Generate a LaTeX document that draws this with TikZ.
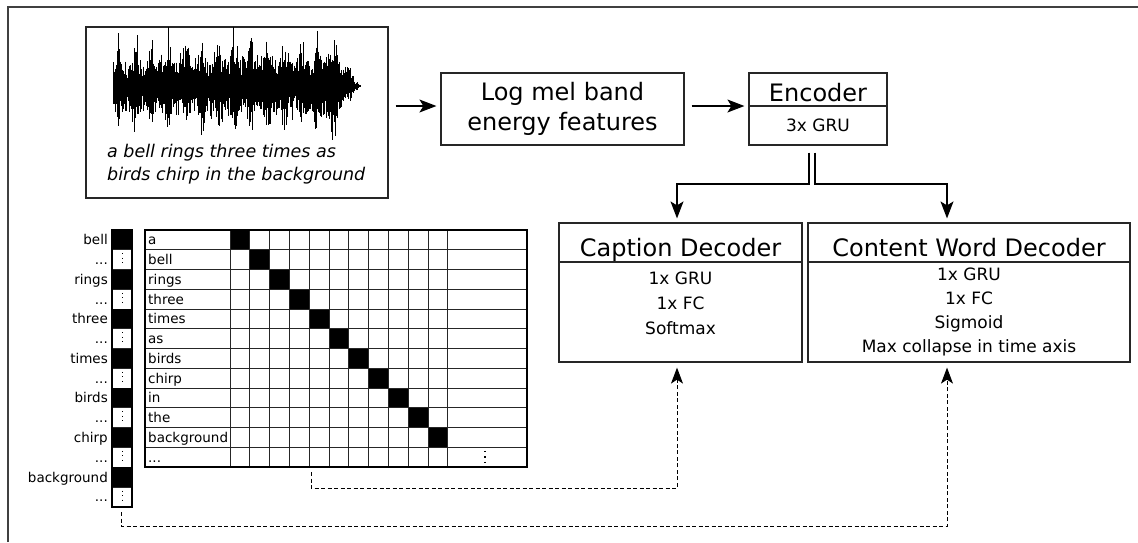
\documentclass[tikz,border=0pt]{standalone}
\usepackage{fontspec}
\setmainfont{DejaVu Sans}
\usetikzlibrary{arrows.meta,calc}
\newcommand\mydots{...}
\begin{document}
\begin{tikzpicture}[x=1pt,y=-1pt,
  box/.style={draw=black!85,line width=1.2pt,inner sep=0pt},
  arr/.style={line width=1.1pt,-{Stealth[length=17pt,width=13pt,inset=4pt]}},
  darr/.style={line width=1pt,dash pattern=on 4pt off 2.5pt,-{Stealth[length=16pt,width=12pt,inset=4pt]}},
  big/.style={font=\fontsize{24}{30}\selectfont},
  mid/.style={font=\fontsize{17}{24}\selectfont},
  small/.style={font=\fontsize{13.5}{16}\selectfont},
  lbl/.style={inner sep=0pt},
  grid line/.style={line width=0.9pt,draw=black!85},
]
\useasboundingbox (0,0) rectangle (1138,542);

% outer frame (cropped)
\draw[line width=1.6pt,black!75] (8,542) -- (8,7) -- (1138,7);

% ---------- waveform box ----------
\node[box,minimum width=302pt,minimum height=171pt] (wave) at (237,112.5) {};
\pgfmathsetseed{12}
\foreach \i in {0,...,414} {
  \pgfmathsetmacro\u{\i/414}
  \pgfmathsetmacro\burst{abs(sin(\u*2700+30))}
  \pgfmathsetmacro\tap{\u>0.9 ? (1-\u)/0.1 : 1}
  \pgfmathsetmacro\e{(16 + 20*\burst^6 + 10*rnd + 14*exp(-((\u-0.88)*22)^2) + 8*sin(\u*180))*\tap}
  \pgfmathsetmacro\a{\e*(0.4+0.6*rnd^1.5)*(rnd>0.93 ? 1.3 : 1)}
  \pgfmathsetmacro\b{\e*(0.4+0.6*rnd^1.5)*(rnd>0.93 ? 1.3 : 1)}
  \draw[line width=0.7pt] (113+0.6*\i, 86-\a) -- (113+0.6*\i, 86+\b);
}
\node[lbl,anchor=base west,font=\itshape\fontsize{17.5}{22}\selectfont] (capt1) at (107,157) {a bell rings three times as};
\node[lbl,anchor=base west,font=\itshape\fontsize{17.5}{22}\selectfont] (capt2) at (107,180) {birds chirp in the background};

% ---------- log mel ----------
\node[box,minimum width=243pt,minimum height=72pt,align=center,big] (mel) at (562.5,109) {Log mel band\\energy features};

% ---------- encoder ----------
\node[box,minimum width=138pt,minimum height=72pt] (enc) at (818,109) {};
\draw[box] (enc.west |- 0,106) -- (enc.east |- 0,106);
\node[lbl,anchor=base,big] (enct) at (818,101) {Encoder};
\node[lbl,anchor=base,mid] (encg) at (818,131) {3x GRU};

% ---------- decoders ----------
\node[box,minimum width=243pt,minimum height=139pt] (cap) at (680.5,292.5) {};
\draw[box] (cap.west |- 0,262) -- (cap.east |- 0,262);
\node[lbl,anchor=base,big] (capt) at (680.5,256) {Caption Decoder};
\node[lbl,anchor=base,mid] (capa) at (680.5,284) {1x GRU};
\node[lbl,anchor=base,mid] (capb) at (680.5,309) {1x FC};
\node[lbl,anchor=base,mid] (capc) at (680.5,334) {Softmax};

\node[box,minimum width=322pt,minimum height=139pt] (cont) at (969,292.5) {};
\draw[box] (cont.west |- 0,262) -- (cont.east |- 0,262);
\node[lbl,anchor=base,big] (contt) at (969,256) {Content Word Decoder};
\node[lbl,anchor=base,mid] (conta) at (969,280) {1x GRU};
\node[lbl,anchor=base,mid] (contb) at (969,304) {1x FC};
\node[lbl,anchor=base,mid] (contc) at (969,328) {Sigmoid};
\node[lbl,anchor=base,mid] (contd) at (969,352) {Max collapse in time axis};

% ---------- solid connectors ----------
\draw[arr] ([xshift=7pt,yshift=6.5pt]wave.east) -- ([xshift=-4pt,yshift=3pt]mel.west);
\draw[arr] ([xshift=7pt,yshift=3pt]mel.east) -- ([xshift=-4pt,yshift=3pt]enc.west);
\coordinate (e1) at ([xshift=-9pt,yshift=-7pt]enc.south);
\coordinate (e2) at ([xshift=-3pt,yshift=-7pt]enc.south);
\coordinate (capin) at ([xshift=-3.5pt,yshift=4pt]cap.north);
\coordinate (contin) at ([xshift=-22pt,yshift=4pt]cont.north);
\draw[arr] (e1) -- (e1 |- 0,184) -| (capin);
\draw[arr] (e2) -- (e2 |- 0,184) -| (contin);

% ---------- left column (content words) ----------
\foreach \k/\w in {0/bell,1/\mydots,2/rings,3/\mydots,4/three,5/\mydots,6/times,7/\mydots,8/birds,9/\mydots,10/chirp,11/\mydots,12/background,13/\mydots} {
  \pgfmathsetmacro\yy{230+19.77*\k}
  \ifodd\k
    \draw[grid line,fill=white] (112,\yy) rectangle (132,\yy+19.77);
    \draw[line width=0.9pt,dash pattern=on 1pt off 3.5pt] (122,\yy+3.5) -- (122,\yy+17);
  \else
    \fill[black] (112,\yy) rectangle (132,\yy+19.77);
  \fi
  \node[lbl,anchor=base east,small] at (108,\yy+14.8) {\w};
}
\draw[line width=1.4pt] (112,230) rectangle (132,506.8);

% ---------- caption matrix ----------
\foreach \r/\w in {0/a,1/bell,2/rings,3/three,4/times,5/as,6/birds,7/chirp,8/in,9/the,10/background,11/\mydots} {
  \pgfmathsetmacro\yy{230+19.75*\r}
  \node[lbl,anchor=base west,small] at (148,\yy+14.8) {\w};
}
\foreach \i in {0,...,10} {
  \fill[black] (230+19.8*\i,230+19.75*\i) rectangle ++(19.8,19.75);
}
\foreach \r in {1,...,11} {
  \draw[grid line] (145,230+19.75*\r) -- (527,230+19.75*\r);
}
\foreach \c in {0,...,11} {
  \draw[grid line] (230+19.8*\c,230) -- (230+19.8*\c,467);
}
\draw[line width=1.2pt,dash pattern=on 1.5pt off 4pt] (485,230+19.75*11+3.5) -- (485,230+19.75*11+18);
\draw[line width=1.5pt] (145,230) rectangle (527,467);

% ---------- dashed connectors ----------
\coordinate (mbot) at (311,472);
\coordinate (cbot) at (121,512);
\coordinate (capbot) at ([xshift=-3.5pt,yshift=-5pt]cap.south);
\coordinate (contbot) at ([xshift=-22pt,yshift=-5pt]cont.south);
\draw[darr] (mbot) -- (mbot |- 0,488) -| (capbot);
\draw[darr] (cbot) -- (cbot |- 0,526) -| (contbot);
\end{tikzpicture}
\end{document}
